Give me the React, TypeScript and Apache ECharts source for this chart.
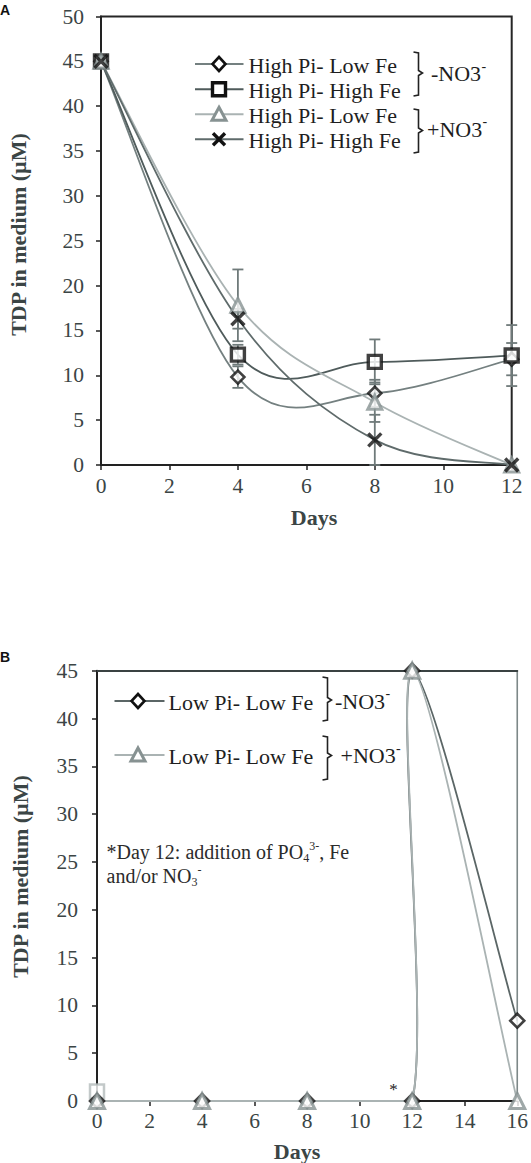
import React, { useEffect, useRef } from "react";
import * as echarts from "echarts";

const FONT = '"Liberation Serif", "Times New Roman", Times, serif';
const SANS = '"Liberation Sans", Arial, sans-serif';

// ---------- Panel A data ----------
const daysA = [0, 4, 8, 12];
const aLowFeMinus = [45, 9.8, 8.0, 11.8];
const aLowFeMinusErr = [0, 1.2, 1.5, 1.8];
const aHighFeMinus = [45, 12.3, 11.5, 12.2];
const aHighFeMinusErr = [0, 1.1, 2.5, 3.4];
const aLowFePlus = [45, 17.8, 7.0, 0];
const aLowFePlusErr = [0, 4.0, 2.2, 0];
const aHighFePlus = [45, 16.3, 2.8, 0];
const aHighFePlusErr = [0, 1.1, 2.8, 0];
const legendA = ["High Pi- Low Fe", "High Pi- High Fe", "High Pi- Low Fe", "High Pi- High Fe"];

// ---------- Panel B data ----------
const daysB = [0, 4, 8, 12, 12, 16];
const bLowFeMinus = [0, 0, 0, 0, 45, 8.4];
const bLowFePlus = [0, 0, 0, 0, 45, 0];
const bExtraDays = [0];
const bExtraValues = [1];
const legendB = ["Low Pi- Low Fe", "Low Pi- Low Fe"];
const groupLabels = ["-NO3", "+NO3"];
const yTitle = "TDP in medium (µM)";
const xTitle = "Days";

const TICK = "#3b4545";

const C_DIAMOND_LINE = "#748080";
const C_SQUARE_LINE = "#4f5b5b";
const C_TRI_LINE = "#aab3b3";
const C_X_LINE = "#5f6b6b";
const C_TRI_MARK = "#879292";
const C_ERR = "#6f7a7a";

function curveSeries(xs: number[], ys: number[], color: string, width: number, gi: number, z: number, clampY = false) {
  const pts = xs.map((x, i) => [x, ys[i]]);
  return {
    type: "custom",
    xAxisIndex: gi === 0 ? 0 : 1,
    yAxisIndex: gi,
    data: pts,
    z,
    silent: true,
    clip: false,
    renderItem: (params: any, api: any) => {
      const i = params.dataIndex;
      if (i >= pts.length - 1) return { type: "group", children: [] };
      const P = (k: number) => api.coord(pts[Math.max(0, Math.min(pts.length - 1, k))]);
      const p0 = P(i - 1), p1 = P(i), p2 = P(i + 1), p3 = P(i + 2);
      let cpy1 = p1[1] + (p2[1] - p0[1]) / 6;
      let cpy2 = p2[1] - (p3[1] - p1[1]) / 6;
      if (clampY) {
        const lo = Math.min(p1[1], p2[1]), hi = Math.max(p1[1], p2[1]);
        cpy1 = Math.max(lo, Math.min(hi, cpy1));
        cpy2 = Math.max(lo, Math.min(hi, cpy2));
      }
      return {
        type: "bezierCurve",
        shape: {
          x1: p1[0], y1: p1[1], x2: p2[0], y2: p2[1],
          cpx1: p1[0] + (p2[0] - p0[0]) / 6,
          cpy1,
          cpx2: p2[0] - (p3[0] - p1[0]) / 6,
          cpy2,
        },
        style: { stroke: color, lineWidth: width, fill: "none" },
      };
    },
  };
}

function errorSeries(xs: number[], ys: number[], errs: number[], z: number) {
  const data = xs
    .map((x, i) => [x, Math.max(0, ys[i] - errs[i]), ys[i] + errs[i], errs[i]])
    .filter((d) => d[3] > 0);
  return {
    type: "custom",
    xAxisIndex: 0,
    yAxisIndex: 0,
    data,
    z,
    silent: true,
    encode: { x: 0, y: [1, 2] },
    renderItem: (params: any, api: any) => {
      const lo = api.coord([api.value(0), api.value(1)]);
      const hi = api.coord([api.value(0), api.value(2)]);
      const w = 5.5;
      const st = { stroke: C_ERR, lineWidth: 1.8 };
      return {
        type: "group",
        children: [
          { type: "line", shape: { x1: lo[0], y1: lo[1], x2: hi[0], y2: hi[1] }, style: st },
          { type: "line", shape: { x1: hi[0] - w, y1: hi[1], x2: hi[0] + w, y2: hi[1] }, style: st },
          { type: "line", shape: { x1: lo[0] - w, y1: lo[1], x2: lo[0] + w, y2: lo[1] }, style: st },
        ],
      };
    },
  };
}

const X_PATH = "path://M0,0L10,10M10,0L0,10";

function markerSeries(xs: number[], ys: number[], kind: string, gi: number, z: number, size?: number) {
  const data = xs.map((x, i) => [x, ys[i]]);
  let symbol = "diamond";
  let symbolSize: any = 13;
  let itemStyle: any = { color: "#fff", borderColor: "#111", borderWidth: 2.6 };
  if (kind === "square") {
    symbol = "rect";
    symbolSize = 13;
    itemStyle = { color: "#fff", borderColor: "#111", borderWidth: 3.4 };
  } else if (kind === "triangle") {
    symbol = "triangle";
    symbolSize = 14;
    itemStyle = { color: "#fff", borderColor: C_TRI_MARK, borderWidth: 3 };
  } else if (kind === "x") {
    symbol = X_PATH;
    symbolSize = 13;
    itemStyle = { color: "#111", borderColor: "#111", borderWidth: 3.4 };
  } else if (kind === "lightsquare") {
    symbol = "rect";
    symbolSize = 14;
    itemStyle = { color: "#fff", borderColor: "#b4bcbc", borderWidth: 2.5 };
  }
  if (size) symbolSize = size;
  return {
    type: "scatter",
    xAxisIndex: gi === 0 ? 0 : 1,
    yAxisIndex: gi,
    data,
    symbol,
    symbolSize,
    itemStyle,
    z,
    silent: true,
  };
}

function txt(text: string, x: number, y: number, size: number, opts: any = {}): any {
  return {
    type: "text",
    x,
    y,
    rotation: opts.rotation || 0,
    style: {
      text,
      fontFamily: opts.family || FONT,
      fontSize: size,
      fontWeight: opts.bold ? "bold" : "normal",
      fill: opts.fill || "#1e1e1e",
      align: opts.align || "left",
      verticalAlign: "middle",
    },
  };
}

function legendMarker(kind: string, cx: number, cy: number): any[] {
  if (kind === "diamond")
    return [{ type: "polygon", shape: { points: [[cx, cy - 7], [cx + 6.5, cy], [cx, cy + 7], [cx - 6.5, cy]] }, style: { fill: "#fff", stroke: "#111", lineWidth: 2.6 } }];
  if (kind === "square")
    return [{ type: "rect", shape: { x: cx - 6.5, y: cy - 6.5, width: 13, height: 13 }, style: { fill: "#fff", stroke: "#111", lineWidth: 3.4 } }];
  if (kind === "triangle")
    return [{ type: "polygon", shape: { points: [[cx, cy - 7], [cx + 7, cy + 6], [cx - 7, cy + 6]] }, style: { fill: "#fff", stroke: C_TRI_MARK, lineWidth: 3 } }];
  return [
    { type: "line", shape: { x1: cx - 6, y1: cy - 6, x2: cx + 6, y2: cy + 6 }, style: { stroke: "#111", lineWidth: 3.4 } },
    { type: "line", shape: { x1: cx + 6, y1: cy - 6, x2: cx - 6, y2: cy + 6 }, style: { stroke: "#111", lineWidth: 3.4 } },
  ];
}

function legendRow(kind: string, lineColor: string, label: string, x1: number, x2: number, mx: number, tx: number, y: number): any[] {
  return [
    { type: "line", shape: { x1, y1: y, x2, y2: y }, style: { stroke: lineColor, lineWidth: 2 } },
    ...legendMarker(kind, mx, y),
    txt(label, tx, y + 1, 22),
  ];
}

function bracket(x: number, top: number, mid: number, bottom: number): any {
  return {
    type: "polyline",
    shape: { points: [[x - 5, top], [x, top + 1], [x, mid - 2.5], [x + 4, mid], [x, mid + 2.5], [x, bottom - 1], [x - 5, bottom]] },
    style: { stroke: "#222", lineWidth: 1.6, fill: "none" },
  };
}

function groupText(label: string, x: number, y: number, sx: number, sy: number): any[] {
  return [txt(label, x, y, 22), txt("-", sx, sy, 14)];
}

function axisCommon(extra: any) {
  return {
    type: "value",
    splitLine: { show: false },
    axisLine: { show: true, lineStyle: { color: "#222", width: 2 } },
    axisTick: { show: true, length: 5, lineStyle: { color: "#222", width: 1.5 } },
    ...extra,
  };
}

function buildOption(): any {
  const graphics: any[] = [];
  graphics.push(txt("A", 0, 10, 14, { family: SANS, bold: true, fill: "#111" }));
  graphics.push(txt("B", 0, 657, 14, { family: SANS, bold: true, fill: "#111" }));
  graphics.push(txt(yTitle, 18, 234.5, 22, { bold: true, fill: TICK, align: "center", rotation: Math.PI / 2 }));
  graphics.push(txt(xTitle, 314, 517, 22, { bold: true, fill: TICK, align: "center" }));
  graphics.push(txt(yTitle, 20, 876.5, 22, { bold: true, fill: TICK, align: "center", rotation: Math.PI / 2 }));
  graphics.push(txt(xTitle, 297, 1151, 22, { bold: true, fill: TICK, align: "center" }));

  const kindsA = ["diamond", "square", "triangle", "x"];
  const colorsA = [C_DIAMOND_LINE, C_SQUARE_LINE, C_TRI_LINE, C_X_LINE];
  const rowsA = [64, 89.3, 114.3, 139.3];
  kindsA.forEach((k, i) => graphics.push(...legendRow(k, colorsA[i], legendA[i], 195, 243.5, 219, 248.5, rowsA[i])));
  graphics.push(bracket(418.5, 52, 73, 96));
  graphics.push(bracket(418.5, 109, 130.5, 153));
  graphics.push(...groupText(groupLabels[0], 431, 73.5, 481.5, 66));
  graphics.push(...groupText(groupLabels[1], 427, 129, 482.5, 121.5));

  graphics.push(...legendRow("diamond", "#5b6666", legendB[0], 114.5, 164.5, 138, 168.5, 701));
  graphics.push(...legendRow("triangle", C_TRI_LINE, legendB[1], 114.5, 164.5, 138, 168.5, 755));
  graphics.push(bracket(327.5, 677, 700, 721));
  graphics.push(bracket(327.5, 736, 755.5, 780));
  graphics.push(...groupText(groupLabels[0], 335, 701.5, 385.5, 693));
  graphics.push(...groupText(groupLabels[1], 340.5, 755.5, 396, 748));

  graphics.push({
    type: "text",
    x: 106.5,
    y: 840,
    style: {
      text: "{t|*Day 12: addition of PO}{sub|4}{sup|3-}{t|, Fe}\n{t|and/or NO}{sub|3}{sup|-}",
      align: "left",
      verticalAlign: "top",
      rich: {
        t: { fontFamily: FONT, fontSize: 20, fill: "#2b2b2b", lineHeight: 24 },
        sub: { fontFamily: FONT, fontSize: 12, fill: "#2b2b2b", verticalAlign: "bottom" },
        sup: { fontFamily: FONT, fontSize: 12, fill: "#2b2b2b", verticalAlign: "top" },
      },
    },
  });
  graphics.push(txt("*", 393.5, 1089, 17, { align: "center", fill: "#222" }));

  const lab = (margin: number) => ({ fontFamily: FONT, fontSize: 21.5, color: TICK, margin });
  return {
    animation: false,
    backgroundColor: "#fff",
    grid: [
      { left: 101, right: 19.3, top: 16.5, height: 448.5, show: true, borderColor: "#262626", borderWidth: 2 },
      { left: 97, right: 12, top: 670.7, height: 430.3, show: true, borderColor: "#7d8888", borderWidth: 1.6 },
    ],
    xAxis: [
      axisCommon({ gridIndex: 0, min: 0, max: 12, interval: 2, axisLabel: lab(10) }),
      axisCommon({ gridIndex: 1, min: 0, max: 16, interval: 2, axisLabel: lab(9) }),
      {
        type: "value", gridIndex: 1, position: "top", min: 0, max: 16,
        axisLine: { show: true, lineStyle: { color: "#3a4242", width: 2 } },
        axisTick: { show: false }, axisLabel: { show: false }, splitLine: { show: false },
      },
    ],
    yAxis: [
      axisCommon({ gridIndex: 0, min: 0, max: 50, interval: 5, axisLabel: lab(17) }),
      axisCommon({ gridIndex: 1, min: 0, max: 45, interval: 5, axisLabel: lab(19) }),
    ],
    graphic: { elements: graphics },
    series: [
      curveSeries(daysA, aLowFeMinus, C_DIAMOND_LINE, 1.8, 0, 2),
      curveSeries(daysA, aHighFeMinus, C_SQUARE_LINE, 1.8, 0, 2),
      curveSeries(daysA, aLowFePlus, C_TRI_LINE, 1.8, 0, 2),
      curveSeries(daysA, aHighFePlus, C_X_LINE, 1.8, 0, 2),
      errorSeries(daysA, aLowFeMinus, aLowFeMinusErr, 3),
      errorSeries(daysA, aHighFeMinus, aHighFeMinusErr, 3),
      errorSeries(daysA, aLowFePlus, aLowFePlusErr, 3),
      errorSeries(daysA, aHighFePlus, aHighFePlusErr, 3),
      markerSeries(daysA, aLowFeMinus, "diamond", 0, 4),
      markerSeries(daysA, aHighFeMinus, "square", 0, 4),
      markerSeries(daysA, aLowFePlus, "triangle", 0, 4),
      markerSeries(daysA, aHighFePlus, "x", 0, 4),
      curveSeries(daysB, bLowFeMinus, "#5b6666", 1.8, 1, 2, true),
      curveSeries(daysB, bLowFePlus, C_TRI_LINE, 1.8, 1, 2, true),
      markerSeries(bExtraDays, bExtraValues, "lightsquare", 1, 3),
      markerSeries(daysB, bLowFeMinus, "diamond", 1, 4, 14),
      markerSeries(daysB, bLowFePlus, "triangle", 1, 5, 15),
    ],
  };
}

export default function App() {
  const ref = useRef<HTMLDivElement>(null);
  useEffect(() => {
    if (!ref.current) return;
    const chart = echarts.init(ref.current, undefined, { renderer: "svg" });
    chart.setOption(buildOption());
    return () => chart.dispose();
  }, []);
  return (
    <div
      ref={ref}
      style={{ position: "absolute", left: 0, top: 0, width: 531, height: 1163, background: "#fff" }}
    />
  );
}
